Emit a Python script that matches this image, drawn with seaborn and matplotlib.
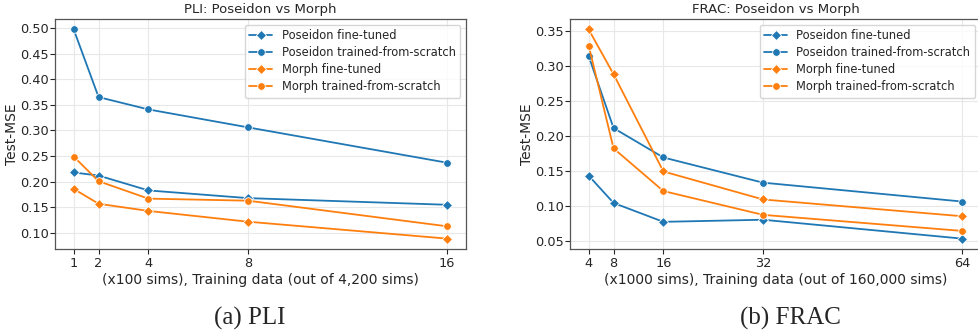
import matplotlib
matplotlib.use("Agg")
import matplotlib.pyplot as plt
import seaborn as sns
import pandas as pd

# PLI panel
pli_x = [1, 2, 4, 8, 16]
pli_poseidon_ft = [0.218, 0.212, 0.183, 0.168, 0.155]
pli_poseidon_scratch = [0.497, 0.365, 0.341, 0.306, 0.237]
pli_morph_ft = [0.186, 0.157, 0.143, 0.122, 0.089]
pli_morph_scratch = [0.249, 0.201, 0.167, 0.163, 0.113]

# FRAC panel
frac_x = [4, 8, 16, 32, 64]
frac_poseidon_ft = [0.143, 0.104, 0.077, 0.080, 0.053]
frac_poseidon_scratch = [0.314, 0.211, 0.169, 0.133, 0.106]
frac_morph_ft = [0.352, 0.288, 0.149, 0.109, 0.085]
frac_morph_scratch = [0.329, 0.182, 0.121, 0.087, 0.064]

labels = ["Poseidon fine-tuned", "Poseidon trained-from-scratch",
          "Morph fine-tuned", "Morph trained-from-scratch"]
colors = ["#1f77b4", "#1f77b4", "#ff7f0e", "#ff7f0e"]
markers = ["D", "o", "D", "o"]

sns.set_style("ticks")
plt.rcParams["font.family"] = ["DejaVu Sans"]

fig = plt.figure(figsize=(9.79, 3.33), dpi=100)
ax1 = fig.add_axes([0.0562, 0.252, 0.4197, 0.691])
ax2 = fig.add_axes([0.5822, 0.252, 0.4197, 0.691])


def panel(ax, x, series, title, xlabel):
    for vals, lab, c, m in zip(series, labels, colors, markers):
        df = pd.DataFrame({"x": x, "y": vals})
        sns.lineplot(data=df, x="x", y="y", ax=ax, color=c, marker=m,
                     markersize=5.5, linewidth=1.3, markeredgewidth=0.6,
                     label=lab)
    ax.set_xticks(x)
    ax.set_title(title, fontsize=9.5, pad=4)
    ax.set_xlabel(xlabel, fontsize=10, labelpad=2)
    ax.set_ylabel("Test-MSE", fontsize=10, labelpad=0.5)
    ax.tick_params(axis="x", labelsize=9.3, length=3.5, width=0.8, pad=2)
    ax.tick_params(axis="y", labelsize=9.3, length=3.5, width=0.8, pad=1)
    for sp in ax.spines.values():
        sp.set_color("#555555")
        sp.set_linewidth(0.9)
    ax.grid(True, color="#e8e8e8", linewidth=0.8)
    ax.legend(loc="upper right", fontsize=8.3, framealpha=0.8,
              edgecolor="#cccccc", borderaxespad=0.5, labelspacing=0.35)


panel(ax1, pli_x, [pli_poseidon_ft, pli_poseidon_scratch, pli_morph_ft, pli_morph_scratch],
      "PLI: Poseidon vs Morph", "(x100 sims), Training data (out of 4,200 sims)")
panel(ax2, frac_x, [frac_poseidon_ft, frac_poseidon_scratch, frac_morph_ft, frac_morph_scratch],
      "FRAC: Poseidon vs Morph", "(x1000 sims), Training data (out of 160,000 sims)")

ax1.set_yticks([0.10, 0.15, 0.20, 0.25, 0.30, 0.35, 0.40, 0.45, 0.50])
ax2.set_yticks([0.05, 0.10, 0.15, 0.20, 0.25, 0.30, 0.35])

fig.text(0.255, 0.045, "(a) PLI", fontsize=18, family="Liberation Serif",
         ha="center", va="center")
fig.text(0.807, 0.045, "(b) FRAC", fontsize=18, family="Liberation Serif",
         ha="center", va="center")

fig.savefig("out.png", dpi=100)
